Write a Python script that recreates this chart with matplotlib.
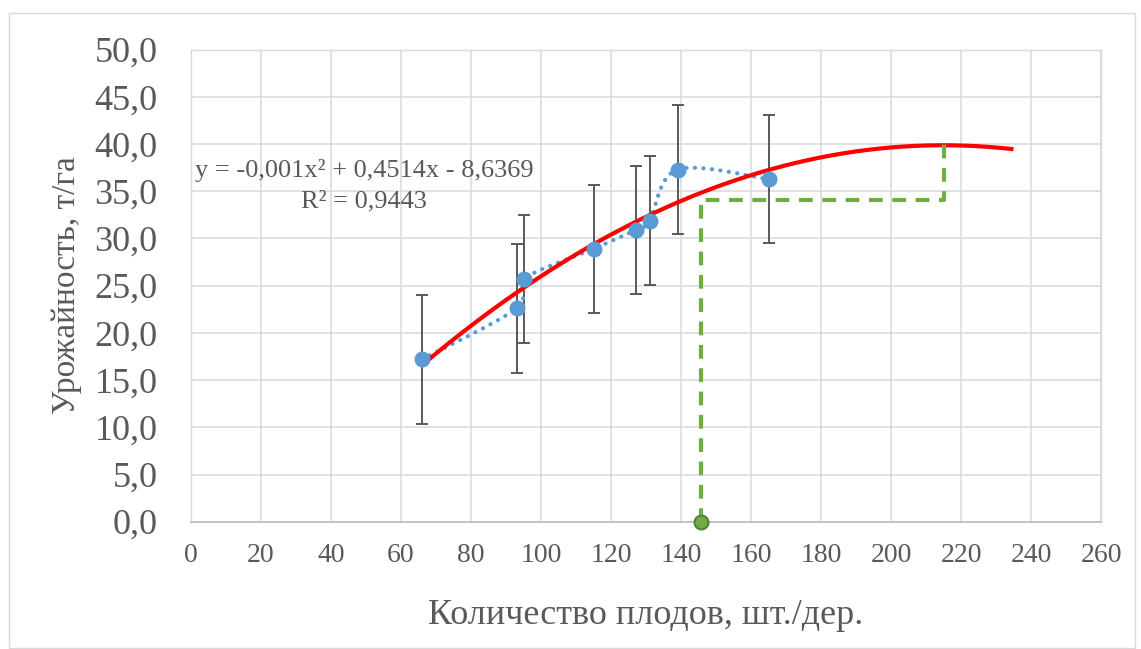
import numpy as np
import matplotlib.pyplot as plt
from matplotlib.patches import Rectangle

# Measured yield vs. fruit count per tree
fruit_count = [66, 93, 95, 115, 127, 131, 139, 165]
yield_t_ha = [17.2, 22.6, 25.7, 28.9, 30.9, 31.9, 37.3, 36.3]
yield_err = [6.8, 6.8, 6.8, 6.8, 6.8, 6.8, 6.8, 6.8]

# Polynomial trendline (order 2), extended forward to 235
trend_coef = [-0.00105, 0.4514, -8.6369]
trend_x_range = [66, 235]
trend_label = ['y = -0,001x² + 0,4514x - 8,6369', 'R² = 0,9443']

# Optimum guide lines
guide_x = [145.6, 145.6, 215.2, 215.2]
guide_y = [0.0, 34.1, 34.1, 40.0]
optimum_x = 145.6

x_ticks = list(range(0, 261, 20))
y_ticks = [0, 5, 10, 15, 20, 25, 30, 35, 40, 45, 50]
y_tick_labels = ['0,0', '5,0', '10,0', '15,0', '20,0', '25,0', '30,0',
                 '35,0', '40,0', '45,0', '50,0']

W, H = 1141, 649
TEXT = '#595959'
plt.rcParams['font.family'] = ['Liberation Serif', 'DejaVu Serif']

fig = plt.figure(figsize=(W / 100, H / 100), dpi=100)
ax = fig.add_axes([191 / W, 1 - 521.7 / H, (1101 - 191) / W, (521.7 - 49.7) / H])
ax.set_xlim(0, 260)
ax.set_ylim(0, 50)

# outer chart frame
fig.patches.append(Rectangle((9 / W, 1 - 648 / H), (1135 - 9) / W, (648 - 13) / H,
                             transform=fig.transFigure, fill=False,
                             edgecolor='#D9D9D9', linewidth=1.0))

ax.set_xticks(x_ticks)
ax.set_yticks(y_ticks)
ax.set_yticklabels(y_tick_labels)
ax.tick_params(axis='both', length=0, colors=TEXT)
ax.tick_params(axis='y', labelsize=26, pad=24)
ax.tick_params(axis='x', labelsize=20, pad=15)
ax.grid(True, color='#D9D9D9', linewidth=1.1, zorder=0)
ax.set_axisbelow(True)
for side in ['top', 'right', 'left']:
    ax.spines[side].set_color('#D9D9D9')
    ax.spines[side].set_linewidth(1.0)
ax.spines['bottom'].set_color('#BFBFBF')
ax.spines['bottom'].set_linewidth(1.3)

# smoothed connecting line (Catmull-Rom Bezier in screen space)
fig.canvas.draw()
pts = ax.transData.transform(np.column_stack([fruit_count, yield_t_ha]))
ext = np.vstack([pts[0], pts, pts[-1]])
curve = []
t = np.linspace(0, 1, 30)[:, None]
for i in range(1, len(ext) - 2):
    p0, p1, p2, p3 = ext[i - 1], ext[i], ext[i + 1], ext[i + 2]
    c1 = p1 + (p2 - p0) / 6.0
    c2 = p2 - (p3 - p1) / 6.0
    seg = ((1 - t) ** 3) * p1 + 3 * ((1 - t) ** 2) * t * c1 + 3 * (1 - t) * t ** 2 * c2 + t ** 3 * p2
    curve.append(seg)
curve = ax.transData.inverted().transform(np.vstack(curve))
ax.plot(curve[:, 0], curve[:, 1], color='#5B9BD5', linewidth=3.0,
        linestyle=(0, (0.05, 2.0)), dash_capstyle='round', zorder=3)

# error bars
ax.errorbar(fruit_count, yield_t_ha, yerr=yield_err, fmt='none',
            ecolor='#595959', elinewidth=1.4, capsize=4.5, capthick=1.4, zorder=2)

# trendline
tx = np.linspace(trend_x_range[0], trend_x_range[1], 300)
ty = np.polyval(trend_coef, tx)
ax.plot(tx, ty, color='#FF0000', linewidth=3.0, solid_capstyle='butt', zorder=4)

# markers
ax.plot(fruit_count, yield_t_ha, linestyle='none', marker='o', markersize=10.5,
        markerfacecolor='#5B9BD5', markeredgecolor='#5B9BD5', zorder=5)

# optimum guides
ax.plot(guide_x, guide_y, color='#70AD47', linewidth=3.0,
        linestyle=(0, (3.3, 2.3)), zorder=4)
ax.plot([optimum_x], [0], marker='o', markersize=10, markerfacecolor='#70AD47',
        markeredgecolor='#548235', markeredgewidth=1.5, clip_on=False, zorder=6)

# trendline equation
ax.text(49.5, 37.25, trend_label[0], fontsize=19, color=TEXT, ha='center', va='center')
ax.text(49.5, 33.95, trend_label[1], fontsize=19, color=TEXT, ha='center', va='center')

# axis titles
fig.text(646 / W, 1 - 624 / H, 'Количество плодов, шт./дер.', fontsize=26,
         color=TEXT, ha='center', va='baseline')
fig.text(67 / W, 1 - 285 / H, 'Урожайность, т/га', fontsize=24, color=TEXT,
         ha='center', va='center', rotation=90)

fig.savefig('out.png', dpi=100)
